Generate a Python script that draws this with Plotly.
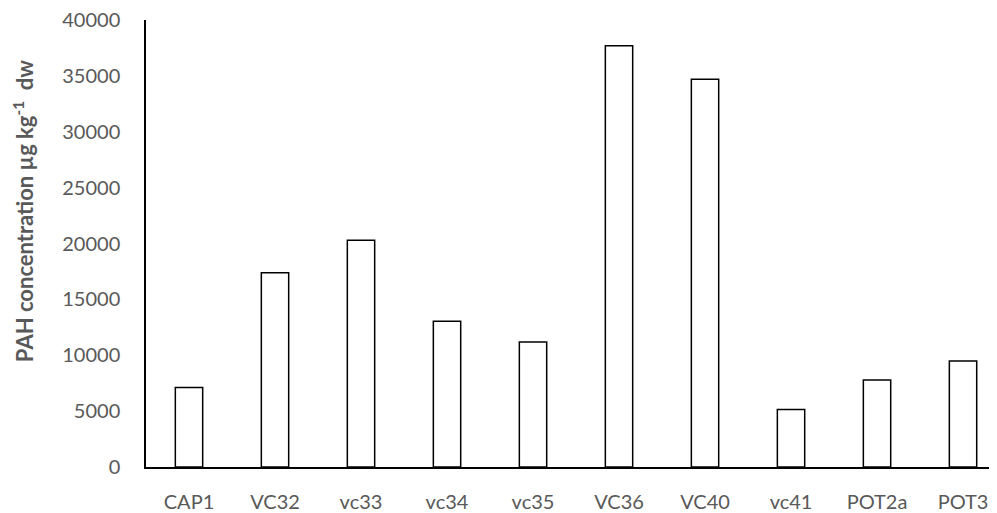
import plotly.graph_objects as go

categories = ["CAP1", "VC32", "vc33", "vc34", "vc35", "VC36", "VC40", "vc41", "POT2a", "POT3"]
pah_values = [7110, 17380, 20300, 13050, 11190, 37700, 34700, 5140, 7790, 9490]
y_ticks = [0, 5000, 10000, 15000, 20000, 25000, 30000, 35000, 40000]

# page has an 8px body margin, so figure coordinates are offset by 8px
OFF = 8
W, H = 997 - OFF, 513 - OFF
L, R, T = 146 - OFF, 0, 20 - OFF
B = H - (466.7 - OFF)
plot_w = W - L - R
plot_h = H - T - B

fig = go.Figure(go.Bar(
    x=list(range(len(categories))),
    y=pah_values,
    width=0.318,
    marker=dict(color="white", line=dict(color="black", width=1.5)),
))

fig.update_layout(
    width=W, height=H,
    margin=dict(l=L, r=R, t=T, b=B, pad=0, autoexpand=False),
    paper_bgcolor="white", plot_bgcolor="white",
    showlegend=False,
    font=dict(family="Lato, Open Sans, sans-serif", size=20, color="#595959"),
)
fig.update_xaxes(
    tickmode="array", tickvals=list(range(len(categories))), ticktext=categories,
    range=[-0.5, 9.395], showgrid=False, zeroline=False,
    showline=True, linecolor="black", linewidth=1.5, ticks="",
    ticklabelstandoff=16, automargin=False, ticklabeloverflow="allow",
)
fig.update_yaxes(
    range=[0, 40000], tickmode="array", tickvals=y_ticks,
    ticktext=[str(v) for v in y_ticks],
    showgrid=False, zeroline=False,
    showline=True, linecolor="black", linewidth=1.5, ticks="",
    ticklabelstandoff=20, automargin=False, ticklabeloverflow="allow",
)
fig.add_annotation(
    text="<b>PAH concentration µg kg<sup>-1</sup>  dw</b>",
    xref="paper", yref="paper",
    x=(23 - OFF - L) / plot_w, y=(466.7 - 211) / plot_h,
    xanchor="center", yanchor="middle", textangle=-90, showarrow=False,
    font=dict(family="Lato, Open Sans, sans-serif", size=22, color="#595959"),
)
fig.write_html("out.html")
